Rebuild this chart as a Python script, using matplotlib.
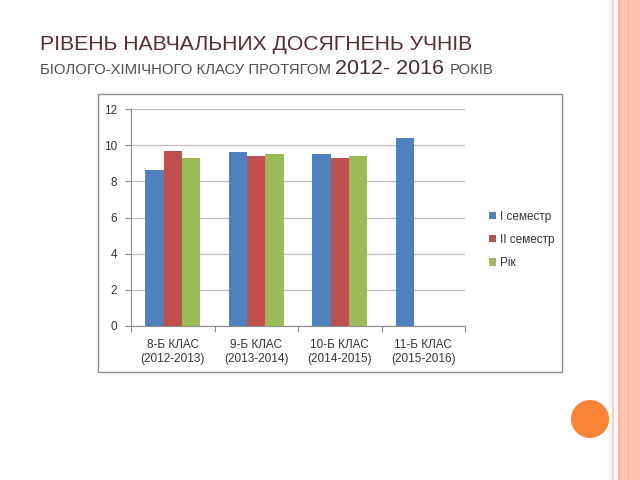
import numpy as np
import matplotlib
matplotlib.use('Agg')
import matplotlib.pyplot as plt
from matplotlib.patches import Rectangle, Ellipse

# data
classes = ['8-Б КЛАС\n(2012-2013)', '9-Б КЛАС\n(2013-2014)',
           '10-Б КЛАС\n(2014-2015)', '11-Б КЛАС\n(2015-2016)']
sem1 = [8.6, 9.6, 9.5, 10.4]
sem2 = [9.7, 9.4, 9.3, np.nan]
year = [9.3, 9.5, 9.4, np.nan]
series_names = ['І семестр', 'ІІ семестр', 'Рік']
colors = ['#4F81BD', '#C0504D', '#9BBB59']
yticks_vals = [0, 2, 4, 6, 8, 10, 12]

plt.rcParams['font.family'] = ['Liberation Sans', 'DejaVu Sans']

W, H = 640, 480
fig = plt.figure(figsize=(6.4, 4.8), dpi=100)
fig.patch.set_facecolor('#FDFDFD')

def fx(px):
    return px / W

def fy(py):
    return 1 - py / H

# right side slide decoration
fig.patches.append(Rectangle((fx(620), 0), fx(20), 1, transform=fig.transFigure,
                             facecolor='#FFC5B2', edgecolor='none', zorder=0))
fig.patches.append(Rectangle((fx(617.5), 0), fx(3), 1, transform=fig.transFigure,
                             facecolor='#F9B89E', edgecolor='none', zorder=0))
fig.patches.append(Rectangle((fx(627.5), 0), fx(1.5), 1, transform=fig.transFigure,
                             facecolor='#F7B399', edgecolor='none', zorder=0))
fig.patches.append(Rectangle((fx(611.5), 0), fx(2.5), 1, transform=fig.transFigure,
                             facecolor='#F8CFC0', edgecolor='none', zorder=0))
fig.patches.append(Ellipse((fx(590), fy(419)), 38 / W, 38 / H, transform=fig.transFigure,
                           facecolor='#FA8433', edgecolor='none', zorder=1))

# chart frame
fig.patches.append(Rectangle((fx(98), fy(372)), fx(562 - 98), (372 - 94) / H,
                             transform=fig.transFigure, facecolor='white',
                             edgecolor='#8C8C8C', linewidth=1.0, zorder=1))

# title
fig.text(fx(40), fy(50), 'РІВЕНЬ НАВЧАЛЬНИХ ДОСЯГНЕНЬ УЧНІВ', fontsize=15.2,
         color='#5A2C33', va='baseline', ha='left')

renderer = fig.canvas.get_renderer()
parts = [('БІОЛОГО-ХІМІЧНОГО КЛАСУ ПРОТЯГОМ ', 10.7, '#505050'),
         ('2012- 2016 ', 15.4, '#4A2A30'),
         ('РОКІВ', 10.7, '#505050')]
x0 = fx(40)
for txt, size, col in parts:
    t = fig.text(x0, fy(74), txt, fontsize=size, color=col, va='baseline', ha='left')
    bb = t.get_window_extent(renderer=renderer)
    x0 = bb.x1 / W

# chart
ax = fig.add_axes([fx(131), fy(326), fx(465 - 131), (326 - 109) / H])
ax.set_zorder(2)
x = np.arange(len(classes))
bw = 0.22
for j, vals in enumerate([sem1, sem2, year]):
    ax.bar(x + (j - 1) * bw, vals, width=bw, color=colors[j],
           label=series_names[j], zorder=3)

ax.set_xlim(-0.5, len(classes) - 0.5)
ax.set_ylim(0, 12)
ax.set_yticks(yticks_vals)
ax.yaxis.grid(True, color='#BEBEBE', linewidth=0.9)
ax.set_axisbelow(True)
for s in ['top', 'right']:
    ax.spines[s].set_visible(False)
ax.spines['left'].set_color('#8C8C8C')
ax.spines['bottom'].set_color('#8C8C8C')
ax.tick_params(axis='y', length=4, color='#8C8C8C', labelsize=8.5,
               labelcolor='#333333', pad=6)
ax.set_xticks(np.arange(len(classes) + 1) - 0.5)
ax.set_xticklabels([])
ax.tick_params(axis='x', length=4, color='#8C8C8C', direction='out')
ax.set_xticks(x, minor=True)
ax.set_xticklabels(classes, minor=True)
ax.tick_params(axis='x', which='minor', length=0, labelsize=8.5,
               labelcolor='#333333', pad=9)
for lab in ax.get_xticklabels(minor=True):
    lab.set_linespacing(1.3)

ax.legend(loc='upper left', bbox_to_anchor=(fx(478), fy(200)),
          bbox_transform=fig.transFigure, frameon=False, fontsize=8.5,
          handlelength=0.6, handleheight=0.6, handletextpad=0.4,
          labelspacing=0.95, labelcolor='#333333')

fig.savefig('out.png', dpi=100, facecolor=fig.get_facecolor())
